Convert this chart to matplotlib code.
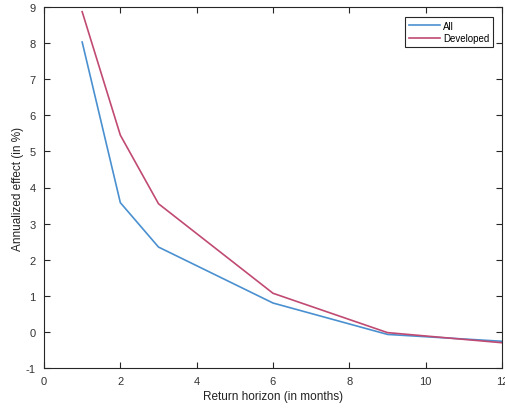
import matplotlib.pyplot as plt

# ================================
# DATA
# ================================
horizon = [1, 2, 3, 6, 9, 12]
effect_all = [8.03, 3.58, 2.35, 0.80, -0.07, -0.26]
effect_developed = [8.87, 5.45, 3.55, 1.07, -0.02, -0.30]

plt.rcParams["font.family"] = ["Liberation Sans", "DejaVu Sans"]
plt.rcParams["axes.unicode_minus"] = False

# ================================
# PLOT
# ================================
fig = plt.figure(figsize=(5.06, 4.10), dpi=100)
ax = fig.add_axes([44 / 506, 1 - 369 / 410, 458 / 506, 361 / 410])

ax.plot(horizon, effect_all, color="#4a90d0", lw=1.2, label="All")
ax.plot(horizon, effect_developed, color="#c04a72", lw=1.2, label="Developed")

ax.set_xlim(0, 12)
ax.set_ylim(-1, 9)
ax.set_xticks(range(0, 13, 2))
ax.set_yticks(range(-1, 10))
ax.tick_params(direction="in", top=True, right=True, labelsize=8,
               length=4, width=0.8, colors="#262626", labelcolor="#333333",
               pad=6)
for s in ax.spines.values():
    s.set_linewidth(0.8)
    s.set_color("#262626")

ax.set_xlabel("Return horizon (in months)", fontsize=8.5, labelpad=3,
              color="#222222")
ax.set_ylabel("Annualized effect (in %)", fontsize=8.5, labelpad=1,
              color="#222222")

leg = ax.legend(loc="upper right", bbox_to_anchor=(0.99, 0.985), fontsize=7,
                fancybox=False, framealpha=1, edgecolor="#262626",
                handlelength=3.2, borderpad=0.35, labelspacing=0.25,
                handletextpad=0.3)
leg.get_frame().set_linewidth(0.8)

fig.savefig("out.png", dpi=100)
